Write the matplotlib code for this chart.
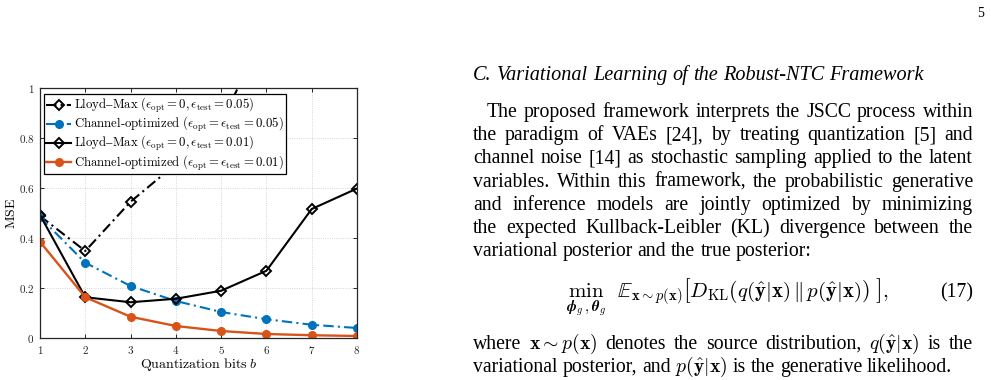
import matplotlib
matplotlib.use('Agg')
import matplotlib.pyplot as plt
from matplotlib.ticker import FixedLocator, FixedFormatter

plt.rcParams['mathtext.fontset'] = 'cm'

# ---------------- data ----------------
bits = [1, 2, 3, 4, 5, 6, 7, 8]
lm_005 = [0.488, 0.348, 0.545, 0.696, 0.86, 1.24, 1.6, 1.9]
co_005 = [0.483, 0.301, 0.208, 0.148, 0.104, 0.075, 0.053, 0.040]
lm_001 = [0.492, 0.163, 0.143, 0.157, 0.189, 0.269, 0.516, 0.598]
co_001 = [0.385, 0.163, 0.085, 0.048, 0.028, 0.016, 0.011, 0.008]
series_labels = [
    r'$\mathrm{Lloyd–Max}\ (\epsilon_{\mathrm{opt}}=0,\epsilon_{\mathrm{test}}=0.05)$',
    r'$\mathrm{Channel\text{-}optimized}\ (\epsilon_{\mathrm{opt}}=\epsilon_{\mathrm{test}}=0.05)$',
    r'$\mathrm{Lloyd–Max}\ (\epsilon_{\mathrm{opt}}=0,\epsilon_{\mathrm{test}}=0.01)$',
    r'$\mathrm{Channel\text{-}optimized}\ (\epsilon_{\mathrm{opt}}=\epsilon_{\mathrm{test}}=0.01)$',
]
xticks = [1, 2, 3, 4, 5, 6, 7, 8]
yticks = [0, 0.2, 0.4, 0.6, 0.8, 1]
ytick_labels = ['0', '0.2', '0.4', '0.6', '0.8', '1']

title_text = 'C. Variational Learning of the Robust-NTC Framework'
para1 = [
    'The proposed framework interprets the JSCC process within',
    'the paradigm of VAEs [24], by treating quantization [5] and',
    'channel noise [14] as stochastic sampling applied to the latent',
    'variables. Within this framework, the probabilistic generative',
    'and inference models are jointly optimized by minimizing',
    'the expected Kullback-Leibler (KL) divergence between the',
    'variational posterior and the true posterior:',
]
equation = (r'$\min_{\boldsymbol{\phi}_g,\boldsymbol{\theta}_g}\ \ \mathbb{E}_{\mathbf{x}\sim p(\mathbf{x})}'
            r'\left[D_{\mathrm{KL}}\left(q(\hat{\mathbf{y}}|\mathbf{x})\,\Vert\,p(\hat{\mathbf{y}}|\mathbf{x})\right)\ \right],$')
eq_number = '(17)'
para2 = [
    r'where $\mathbf{x}\sim{}p(\mathbf{x})$ denotes the source distribution, $q(\hat{\mathbf{y}}|\mathbf{x})$ is the',
    r'variational posterior, and $p(\hat{\mathbf{y}}|\mathbf{x})$ is the generative likelihood.',
]
page_number = '5'

# ---------------- figure ----------------
W, H = 991, 380
fig = plt.figure(figsize=(W / 100, H / 100), dpi=100)
fig.patch.set_facecolor('white')

ax = fig.add_axes([40 / W, 42 / H, 317 / W, 250 / H])
blue = '#0072BD'
orange = '#D95319'
dashdot = (0, (5, 2, 1, 2))
ax.plot(bits, lm_005, color='black', ls=dashdot, lw=1.5, marker='D', ms=5,
        mfc='none', mec='black', mew=1.4, label=series_labels[0])
ax.plot(bits, co_005, color=blue, ls=dashdot, lw=1.5, marker='o', ms=5.5,
        mfc=blue, mec=blue, label=series_labels[1])
ax.plot(bits, lm_001, color='black', ls='-', lw=1.5, marker='D', ms=5,
        mfc='none', mec='black', mew=1.4, label=series_labels[2])
ax.plot(bits, co_001, color=orange, ls='-', lw=1.7, marker='o', ms=5.5,
        mfc=orange, mec=orange, label=series_labels[3])

ax.set_xlim(1, 8)
ax.set_ylim(0, 1)
ax.xaxis.set_major_locator(FixedLocator(xticks))
ax.xaxis.set_major_formatter(FixedFormatter([r'$%d$' % v for v in xticks]))
ax.yaxis.set_major_locator(FixedLocator(yticks))
ax.yaxis.set_major_formatter(FixedFormatter([r'$%s$' % s for s in ytick_labels]))
ax.tick_params(direction='in', top=True, right=True, labelsize=8, length=3,
               width=0.7, colors='#262626', pad=4)
ax.grid(True, ls=':', lw=0.6, color='#c8c8c8')
for sp in ax.spines.values():
    sp.set_color('#262626')
    sp.set_linewidth(0.9)
ax.set_xlabel(r'$\mathrm{Quantization\ bits}\ b$', fontsize=10, labelpad=0)
ax.set_ylabel(r'$\mathrm{MSE}$', fontsize=10)
ax.yaxis.set_label_coords(-0.068, 0.5)

leg = ax.legend(loc='upper left', bbox_to_anchor=(0.006, 0.985), fontsize=9.2,
                frameon=True, fancybox=False, framealpha=1, edgecolor='black',
                handlelength=1.9, handletextpad=0.25, labelspacing=0.0,
                borderpad=0.15, borderaxespad=0.2)
leg.get_frame().set_linewidth(0.9)

# ---------------- text column ----------------
FS = 14.2
FS_TITLE = 14.6
FS_EQ = 15.0
SERIF = 'Liberation Serif'
X0, X1 = 473, 973
renderer = fig.canvas.get_renderer()


def put_line(line, y_px, justify, indent=0.0, style='normal', fs=FS):
    toks = line.split(' ')
    objs = [fig.text(0, 1 - y_px / H, t, fontsize=fs, family=SERIF, style=style,
                     va='baseline', ha='left', color='black') for t in toks]
    ws = [o.get_window_extent(renderer).width for o in objs]
    if justify and len(toks) > 1:
        gap = (X1 - X0 - indent - sum(ws)) / (len(ws) - 1)
    else:
        gap = 0.25 * fs * 100 / 72
    x = X0 + indent
    for o, w in zip(objs, ws):
        o.set_x(x / W)
        x += w + gap


put_line(title_text, 80, False, style='italic', fs=FS_TITLE)
base1 = 117
step = 23.2
for i, line in enumerate(para1):
    put_line(line, base1 + i * step, i < len(para1) - 1, indent=14 if i == 0 else 0)

fig.text(727 / W, 1 - 297 / H, equation, fontsize=FS_EQ, ha='center', va='baseline')
fig.text(X1 / W, 1 - 297 / H, eq_number, fontsize=FS, family=SERIF, ha='right', va='baseline')

base2 = 349
for i, line in enumerate(para2):
    put_line(line, base2 + i * step, i < len(para2) - 1)

fig.text(984 / W, 1 - 17 / H, page_number, fontsize=10, family=SERIF, ha='right', va='baseline')

fig.savefig('out.png', dpi=100, facecolor='white')
